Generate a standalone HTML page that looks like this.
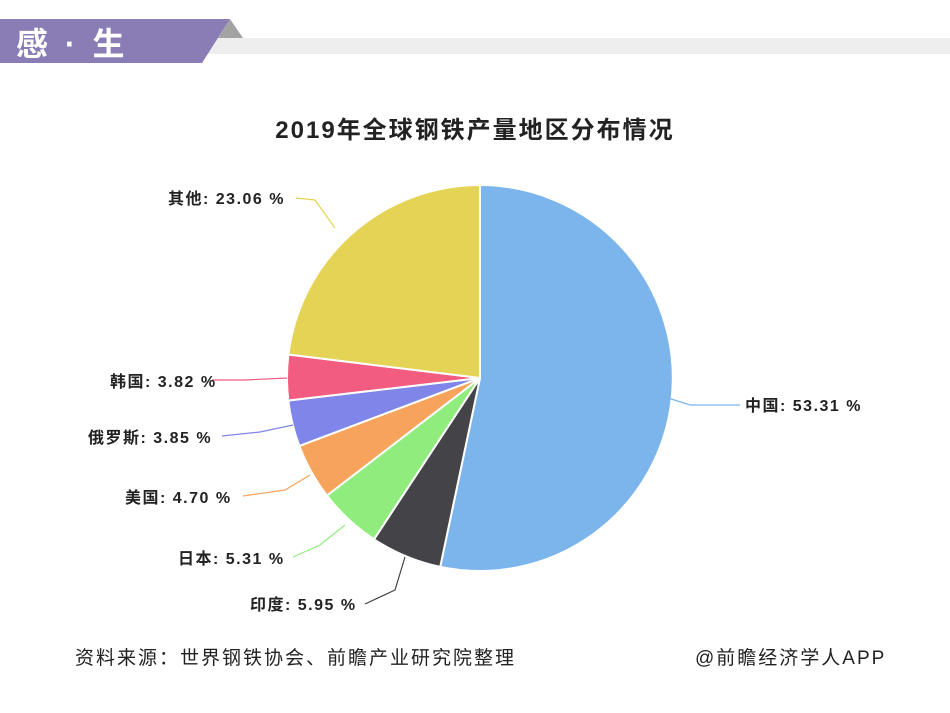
<!DOCTYPE html>
<html><head><meta charset="utf-8"><style>
body{margin:0;width:950px;height:713px;background:#fff;overflow:hidden;font-family:"Liberation Sans","Noto Sans CJK SC",sans-serif}
</style></head><body>
<svg width="950" height="713" xmlns="http://www.w3.org/2000/svg" style="position:absolute;left:0;top:0">
<rect x="205" y="38" width="745" height="16" fill="#eeeeee"/>
<polygon points="0,19 230,19 202,63 0,63" fill="#8a7db5"/>
<polygon points="230,19 243,38 218,38" fill="#a3a3a3"/>
<text x="16" y="55" font-size="32" font-weight="bold" fill="#fff" letter-spacing="4" font-family="Liberation Sans,Noto Sans CJK SC,sans-serif">感 · 生</text>
<text x="475" y="138" text-anchor="middle" font-size="24" font-weight="bold" fill="#222" letter-spacing="2" font-family="Liberation Sans,Noto Sans CJK SC,sans-serif">2019年全球钢铁产量地区分布情况</text>
<g stroke="#fff" stroke-width="2">
<path d="M480,378 L480,185 A193,193 0 1,1 440.2,566.9 Z" fill="#7cb5ec"/>
<path d="M480,378 L440.2,566.9 A193,193 0 0,1 374.0,539.3 Z" fill="#434348"/>
<path d="M480,378 L374.0,539.3 A193,193 0 0,1 326.9,495.5 Z" fill="#90ed7d"/>
<path d="M480,378 L326.9,495.5 A193,193 0 0,1 299.3,445.9 Z" fill="#f7a35c"/>
<path d="M480,378 L299.3,445.9 A193,193 0 0,1 288.3,400.5 Z" fill="#8085e9"/>
<path d="M480,378 L288.3,400.5 A193,193 0 0,1 288.4,354.5 Z" fill="#f15c80"/>
<path d="M480,378 L288.4,354.5 A193,193 0 0,1 480,185 Z" fill="#e4d354"/>
</g>
<g fill="none" stroke-width="1.2">
<path d="M668,398 L690,405 L740,405" stroke="#7cb5ec"/>
<path d="M405,557 L395,590 L365,604" stroke="#434348"/>
<path d="M345,525 L320,545 L293,557" stroke="#90ed7d"/>
<path d="M310,475 L285,490 L243,496" stroke="#f7a35c"/>
<path d="M293,425 L260,432 L222,436" stroke="#8085e9"/>
<path d="M287,378 L245,380 L212,380" stroke="#f15c80"/>
<path d="M335,228 L315,200 L296,198" stroke="#e4d354"/>
</g>
<g font-size="16" font-weight="bold" fill="#222" letter-spacing="1.5" font-family="Liberation Sans,Noto Sans CJK SC,sans-serif">
<text x="745" y="411">中国: 53.31 %</text>
<text x="250" y="610">印度: 5.95 %</text>
<text x="178" y="564">日本: 5.31 %</text>
<text x="125" y="503">美国: 4.70 %</text>
<text x="88" y="443">俄罗斯: 3.85 %</text>
<text x="110" y="387">韩国: 3.82 %</text>
<text x="168" y="204">其他: 23.06 %</text>
</g>
<g font-size="19" fill="#222" letter-spacing="2" font-family="Liberation Sans,Noto Sans CJK SC,sans-serif">
<text x="75" y="664">资料来源：世界钢铁协会、前瞻产业研究院整理</text>
<text x="695" y="664">@前瞻经济学人APP</text>
</g>
</svg>
</body></html>
